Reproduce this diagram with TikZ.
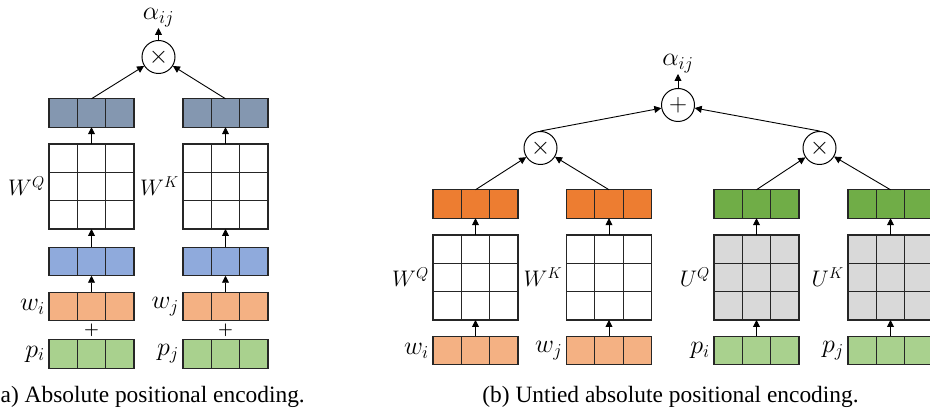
\RequirePackage{fix-cm}
\documentclass[tikz,border=0pt]{standalone}
\usepackage{fontspec}
\newfontfamily\capfont{Liberation Serif}
\usetikzlibrary{arrows.meta,calc}
\definecolor{bordc}{HTML}{262626}
\definecolor{slate}{HTML}{8497B0}
\definecolor{lblue}{HTML}{8FAADC}
\definecolor{lorange}{HTML}{F4B183}
\definecolor{dorange}{HTML}{ED7D31}
\definecolor{dgreen}{HTML}{70AD47}
\definecolor{lgreen}{HTML}{A9D18E}
\definecolor{lgray}{HTML}{D9D9D9}
\tikzset{
  vecbox/.style={draw=bordc, line width=1.2pt, minimum width=85pt, minimum height=28.5pt,
    inner sep=0pt, outer sep=0pt,
    path picture={
      \foreach \t in {1,2}{
        \draw[bordc, line width=1.2pt]
          ($(path picture bounding box.south west)!\t/3!(path picture bounding box.south east)$) --
          ($(path picture bounding box.north west)!\t/3!(path picture bounding box.north east)$);
      }
    }},
  matbox/.style={draw=bordc, line width=1.2pt, minimum width=85pt, minimum height=85pt,
    inner sep=0pt, outer sep=0pt,
    path picture={
      \foreach \t in {1,2}{
        \draw[bordc, line width=1.2pt]
          ($(path picture bounding box.south west)!\t/3!(path picture bounding box.south east)$) --
          ($(path picture bounding box.north west)!\t/3!(path picture bounding box.north east)$);
        \draw[bordc, line width=1.2pt]
          ($(path picture bounding box.south west)!\t/3!(path picture bounding box.north west)$) --
          ($(path picture bounding box.south east)!\t/3!(path picture bounding box.north east)$);
      }
    }},
  opnode/.style={circle, draw=black, line width=1pt, minimum size=33pt, inner sep=0pt, fill=white,
    font=\fontsize{25}{27}\selectfont},
  conn/.style={draw=black, line width=0.9pt, -{Triangle[length=7pt,width=7pt]}},
  mlabel/.style={inner sep=0pt, anchor=east, xshift=-4pt, font=\fontsize{22.5}{25}\selectfont},
  vlabel/.style={inner sep=0pt, anchor=east, xshift=-4pt, font=\fontsize{26}{28}\selectfont},
  alabel/.style={inner sep=1pt, anchor=south, font=\fontsize{26}{28}\selectfont},
  plussign/.style={inner sep=0pt, font=\bfseries\fontsize{17}{17}\selectfont},
  captext/.style={inner sep=0pt, font=\capfont\fontsize{23.4}{26}\selectfont},
}
\begin{document}
\begin{tikzpicture}[x=1pt,y=-1pt]
\clip (0,0) rectangle (930,419);
\fill[white] (0,0) rectangle (930,419);

% ---------------- panel (a) ----------------
\node[vecbox, fill=slate] (aq) at (91.5,113) {};
\node[vecbox, fill=slate] (ak) at (225.5,113) {};
\node[matbox, fill=white] (awq) at (91.5,186.5) {};
\node[matbox, fill=white] (awk) at (225.5,186.5) {};
\node[vecbox, fill=lblue] (ab1) at (91.5,261.5) {};
\node[vecbox, fill=lblue] (ab2) at (225.5,261.5) {};
\node[vecbox, fill=lorange] (aw1) at (91.5,306.5) {};
\node[vecbox, fill=lorange] (aw2) at (225.5,306.5) {};
\node[vecbox, fill=lgreen] (ap1) at (91.5,354) {};
\node[vecbox, fill=lgreen] (ap2) at (225.5,354) {};
\node[plussign] (aplus1) at (91.5,330) {+};
\node[plussign] (aplus2) at (225.5,330) {+};

\node[mlabel] (lwq) at (awq.west) {$W^{Q}$};
\node[mlabel] (lwk) at (awk.west) {$W^{K}$};
\node[vlabel] (lwi) at (aw1.west) {$w_{i}$};
\node[vlabel] (lwj) at (aw2.west) {$w_{j}$};
\node[vlabel] (lpi) at (ap1.west) {$p_{i}$};
\node[vlabel] (lpj) at (ap2.west) {$p_{j}$};

\node[opnode] (atimes) at (158.5,57) {$\times$};
\node[alabel] (aalpha) at (158.5,28) {$\alpha_{ij}$};

\draw[conn] (aw1.north) -- (ab1.south);
\draw[conn] (aw2.north) -- (ab2.south);
\draw[conn] (ab1.north) -- (awq.south);
\draw[conn] (ab2.north) -- (awk.south);
\draw[conn] (awq.north) -- (aq.south);
\draw[conn] (awk.north) -- (ak.south);
\draw[conn] (aq.north) -- (atimes);
\draw[conn] (ak.north) -- (atimes);
\draw[conn] (atimes.north) -- (aalpha.south);

% ---------------- panel (b) ----------------
\node[vecbox, fill=dorange] (bq1) at (475.5,204) {};
\node[vecbox, fill=dorange] (bk1) at (609,204) {};
\node[vecbox, fill=dgreen] (bq2) at (756.5,204) {};
\node[vecbox, fill=dgreen] (bk2) at (890.5,204) {};
\node[matbox, fill=white] (bwq) at (475.5,277.5) {};
\node[matbox, fill=white] (bwk) at (609,277.5) {};
\node[matbox, fill=lgray] (buq) at (756.5,277.5) {};
\node[matbox, fill=lgray] (buk) at (890.5,277.5) {};
\node[vecbox, fill=lorange] (bw1) at (475.5,350.5) {};
\node[vecbox, fill=lorange] (bw2) at (609,350.5) {};
\node[vecbox, fill=lgreen] (bp1) at (756.5,350.5) {};
\node[vecbox, fill=lgreen] (bp2) at (890.5,350.5) {};

\node[mlabel] (lbwq) at (bwq.west) {$W^{Q}$};
\node[mlabel] (lbwk) at (bwk.west) {$W^{K}$};
\node[mlabel] (lbuq) at (buq.west) {$U^{Q}$};
\node[mlabel] (lbuk) at (buk.west) {$U^{K}$};
\node[vlabel] (lbwi) at (bw1.west) {$w_{i}$};
\node[vlabel] (lbwj) at (bw2.west) {$w_{j}$};
\node[vlabel] (lbpi) at (bp1.west) {$p_{i}$};
\node[vlabel] (lbpj) at (bp2.west) {$p_{j}$};

\node[opnode] (btimes1) at (540.5,148) {$\times$};
\node[opnode] (btimes2) at (819.5,148) {$\times$};
\node[opnode] (bplus) at (678,105) {$+$};
\node[alabel] (balpha) at (678,74) {$\alpha_{ij}$};

\draw[conn] (bw1.north) -- (bwq.south);
\draw[conn] (bw2.north) -- (bwk.south);
\draw[conn] (bp1.north) -- (buq.south);
\draw[conn] (bp2.north) -- (buk.south);
\draw[conn] (bwq.north) -- (bq1.south);
\draw[conn] (bwk.north) -- (bk1.south);
\draw[conn] (buq.north) -- (bq2.south);
\draw[conn] (buk.north) -- (bk2.south);
\draw[conn] (bq1.north) -- (btimes1);
\draw[conn] (bk1.north) -- (btimes1);
\draw[conn] (bq2.north) -- (btimes2);
\draw[conn] (bk2.north) -- (btimes2);
\draw[conn] (btimes1.north) -- (bplus);
\draw[conn] (btimes2.north) -- (bplus);
\draw[conn] (bplus.north) -- (balpha.south);

% ---------------- captions ----------------
\node[captext, anchor=base east] (capa) at (305,403) {(a) Absolute positional encoding.};
\node[captext, anchor=base] (capb) at (670.5,403) {(b) Untied absolute positional encoding.};
\end{tikzpicture}
\end{document}
